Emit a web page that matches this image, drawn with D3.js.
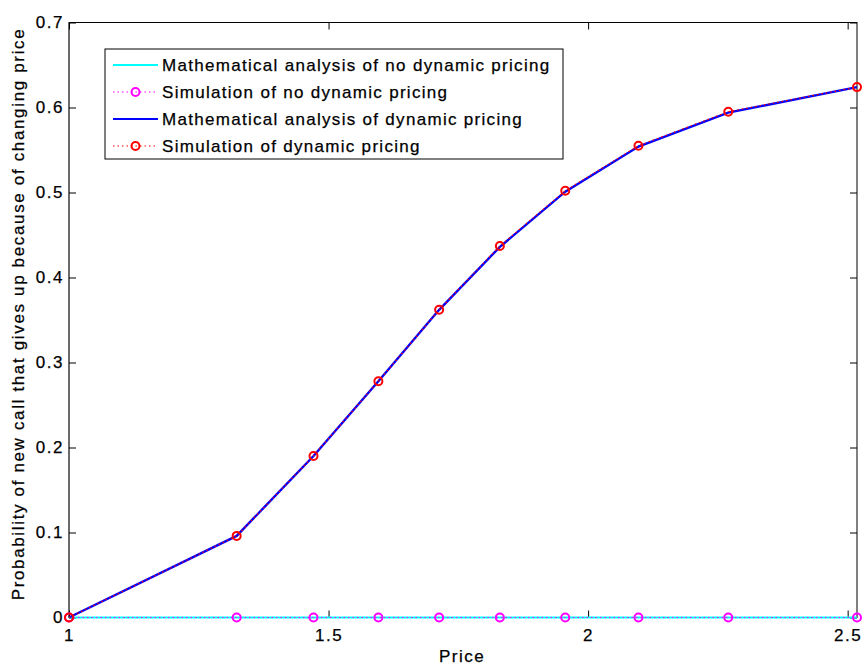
<!DOCTYPE html>
<html>
<head>
<meta charset="utf-8">
<script src="https://cdn.jsdelivr.net/npm/d3@7"></script>
<style>
  html, body { margin: 0; padding: 0; background: #fff; }
  svg { display: block; font-family: "Liberation Sans", Arial, sans-serif; }
  svg text { stroke: #000; stroke-width: 0.25px; }
</style>
</head>
<body>
<svg id="chart" width="864" height="667"></svg>
<script>
// Price points and blocking probabilities
const price = [1.0, 1.323, 1.471, 1.596, 1.713, 1.830, 1.956, 2.097, 2.270, 2.518];
const analysisNoDynamic = [0, 0, 0, 0, 0, 0, 0, 0, 0, 0];
const simulationNoDynamic = [0, 0, 0, 0, 0, 0, 0, 0, 0, 0];
const analysisDynamic = [0, 0.096, 0.190, 0.278, 0.362, 0.436, 0.501, 0.554, 0.594, 0.624];
const simulationDynamic = [0, 0.096, 0.190, 0.278, 0.362, 0.437, 0.502, 0.555, 0.595, 0.624];
const xTicks = [1, 1.5, 2, 2.5];
const yTicks = [0, 0.1, 0.2, 0.3, 0.4, 0.5, 0.6, 0.7];
const seriesNames = [
  "Mathematical analysis of no dynamic pricing",
  "Simulation of no dynamic pricing",
  "Mathematical analysis of dynamic pricing",
  "Simulation of dynamic pricing"
];

const svg = d3.select("#chart");
const plotLeft = 69, plotRight = 857, plotTop = 22.5, plotBottom = 617.5;
const fontFamily = "Liberation Sans, Arial, sans-serif";

const x = d3.scaleLinear().domain([1, 2.518]).range([plotLeft, plotRight]);
const y = d3.scaleLinear().domain([0, 0.7]).range([plotBottom, plotTop]);

const series = [
  { name: seriesNames[0], values: analysisNoDynamic, color: "#00ffff", width: 2, dash: null, marker: false },
  { name: seriesNames[1], values: simulationNoDynamic, color: "#ff00ff", width: 1.2, dash: "1.5,3", marker: true },
  { name: seriesNames[2], values: analysisDynamic, color: "#0000ff", width: 2.4, dash: null, marker: false },
  { name: seriesNames[3], values: simulationDynamic, color: "#ff0000", width: 1.2, dash: "1.5,3", marker: true }
];

// Axes box
svg.append("rect")
  .attr("x", plotLeft).attr("y", plotTop)
  .attr("width", plotRight - plotLeft).attr("height", plotBottom - plotTop)
  .attr("fill", "#fff").attr("stroke", "#000").attr("stroke-width", 1);
svg.append("line")
  .attr("x1", plotLeft).attr("x2", plotLeft).attr("y1", plotTop).attr("y2", plotBottom)
  .attr("stroke", "#666").attr("stroke-width", 1.6);

const tickLen = 7;
const axisFont = 17;

// bottom axis (ticks inward)
const xAxis = d3.axisBottom(x).tickValues(xTicks).tickSizeInner(-tickLen).tickSizeOuter(0)
  .tickPadding(11).tickFormat(d3.format("~g"));
const gx = svg.append("g").attr("transform", `translate(0,${plotBottom})`).call(xAxis);
gx.select(".domain").remove();
gx.selectAll("text").attr("font-size", axisFont).attr("fill", "#000")
  .attr("font-family", fontFamily).attr("letter-spacing", 1.5);

// top ticks
const gxt = svg.append("g").attr("transform", `translate(0,${plotTop})`)
  .call(d3.axisTop(x).tickValues(xTicks).tickSizeInner(-tickLen).tickSizeOuter(0).tickFormat(""));
gxt.select(".domain").remove();

// left axis
const yAxis = d3.axisLeft(y).tickValues(yTicks).tickSizeInner(-tickLen).tickSizeOuter(0)
  .tickPadding(5).tickFormat(d3.format("~g"));
const gy = svg.append("g").attr("transform", `translate(${plotLeft},0)`).call(yAxis);
gy.select(".domain").remove();
gy.selectAll("text").attr("font-size", axisFont).attr("fill", "#000")
  .attr("font-family", fontFamily).attr("letter-spacing", 1.5);

// right ticks
const gyr = svg.append("g").attr("transform", `translate(${plotRight},0)`)
  .call(d3.axisRight(y).tickValues(yTicks).tickSizeInner(-tickLen).tickSizeOuter(0).tickFormat(""));
gyr.select(".domain").remove();

// series
const line = d3.line().x((d, i) => x(price[i])).y(d => y(d));
series.forEach(s => {
  svg.append("path")
    .datum(s.values)
    .attr("d", line)
    .attr("fill", "none")
    .attr("stroke", s.color)
    .attr("stroke-width", s.width)
    .attr("stroke-dasharray", s.dash);
  if (s.marker) {
    svg.append("g").selectAll("circle")
      .data(s.values)
      .join("circle")
      .attr("cx", (d, i) => x(price[i]))
      .attr("cy", d => y(d))
      .attr("r", 4)
      .attr("fill", "none")
      .attr("stroke", s.color)
      .attr("stroke-width", 2);
  }
});

// axis titles
svg.append("text")
  .attr("x", 439).attr("y", 662)
  .attr("font-size", axisFont).attr("fill", "#000").attr("letter-spacing", 1.5)
  .text("Price");
svg.append("text")
  .attr("transform", `translate(24,${(28 + 600) / 2}) rotate(-90)`)
  .attr("text-anchor", "middle").attr("font-size", axisFont).attr("fill", "#000")
  .attr("letter-spacing", 1.65)
  .text("Probability of new call that gives up because of changing price");

// legend
const lg = svg.append("g");
lg.append("rect")
  .attr("x", 105).attr("y", 49).attr("width", 458).attr("height", 110)
  .attr("fill", "#fff").attr("stroke", "#000").attr("stroke-width", 1);
const rowY = [65, 92, 119, 146];
series.forEach((s, i) => {
  lg.append("line")
    .attr("x1", 113).attr("x2", 158).attr("y1", rowY[i]).attr("y2", rowY[i])
    .attr("stroke", s.color).attr("stroke-width", s.marker ? 1.2 : 2.2)
    .attr("stroke-dasharray", s.dash);
  if (s.marker) {
    lg.append("circle").attr("cx", 135.5).attr("cy", rowY[i]).attr("r", 4)
      .attr("fill", "none").attr("stroke", s.color).attr("stroke-width", 2);
  }
  lg.append("text")
    .attr("x", 162).attr("y", rowY[i] + 6)
    .attr("font-size", axisFont).attr("fill", "#000").attr("letter-spacing", 1.3)
    .text(s.name);
});
</script>
</body>
</html>
